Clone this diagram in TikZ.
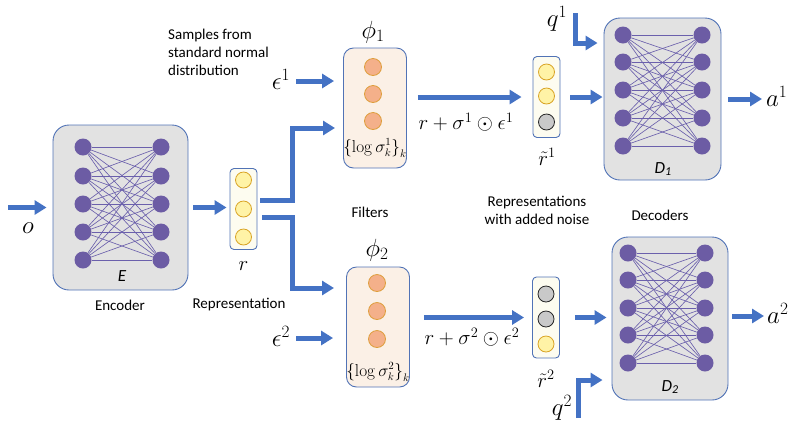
\documentclass[tikz,border=0pt]{standalone}
\usepackage[no-math]{fontspec}
\setmainfont{Carlito}
\usetikzlibrary{arrows.meta}

\definecolor{arrowblue}{HTML}{4472C4}
\definecolor{boxline}{HTML}{5173B6}
\definecolor{netgray}{HTML}{E2E2E2}
\definecolor{neuronfill}{HTML}{6C5CA4}
\definecolor{linkcol}{HTML}{6B60AC}
\definecolor{peach}{HTML}{FBF0E6}
\definecolor{salmon}{HTML}{F4B08A}
\definecolor{salmonline}{HTML}{DE9E3C}
\definecolor{cream}{HTML}{FDFCF0}
\definecolor{lemon}{HTML}{FFF3A6}
\definecolor{lemonline}{HTML}{D9A426}
\definecolor{noisegray}{HTML}{C9C9C9}

\begin{document}
\begin{tikzpicture}[x=1pt,y=-1pt,
  arr/.style={line width=5pt, draw=arrowblue, line join=miter,
    -{Triangle[length=12pt,width=14pt]}},
  netbox/.style={draw=boxline, line width=0.9pt, fill=netgray,
    rounded corners=16pt, inner sep=0pt},
  filterbox/.style={draw=boxline, line width=0.9pt, fill=peach,
    rounded corners=10pt, inner sep=0pt, minimum width=63pt, minimum height=120pt},
  vecbox/.style={draw=boxline, line width=0.9pt, fill=cream,
    rounded corners=4pt, inner sep=0pt, minimum width=27pt, minimum height=81pt},
  neuron/.style={circle, fill=neuronfill, inner sep=0pt, minimum size=17pt},
  link/.style={draw=linkcol, line width=0.65pt},
  unitS/.style={circle, draw=salmonline, line width=0.8pt, fill=salmon,
    inner sep=0pt, minimum size=17pt},
  unitY/.style={circle, draw=lemonline, line width=0.8pt, fill=lemon,
    inner sep=0pt, minimum size=16pt},
  unitG/.style={circle, draw=black!85, line width=0.8pt, fill=noisegray,
    inner sep=0pt, minimum size=16pt},
  caption/.style={font=\fontsize{15}{18}\selectfont, inner sep=0pt, align=center},
  mhuge/.style={font=\fontsize{26}{28}\selectfont, inner sep=0pt},
  mbig/.style={font=\fontsize{24}{26}\selectfont, inner sep=0pt},
  mvec/.style={font=\fontsize{22}{24}\selectfont, inner sep=0pt},
  mmix/.style={font=\fontsize{19.5}{21}\selectfont, inner sep=0pt},
  msig/.style={font=\fontsize{16}{17}\selectfont, inner sep=0pt},
  netname/.style={font=\fontsize{17}{18}\selectfont\itshape, inner sep=0pt},
]
\useasboundingbox (0,0) rectangle (792,424);

% ---------- encoder and decoders ----------
\node[netbox, minimum width=135pt, minimum height=165pt] (enc) at (120.5,207.5) {};
\node[netbox, minimum width=117pt, minimum height=162pt] (dec1) at (662.5,99) {};
\node[netbox, minimum width=116pt, minimum height=163pt] (dec2) at (670,318.5) {};

% fully connected layers
\foreach \net/\xl/\xr/\ya/\yb/\yc/\yd/\ye in
  {e/83/161/147/176/204/232/260,
   a/623/702/35/62/90/118/146,
   b/628/705/253/280/308/335/363}{
  \foreach \i/\y in {1/\ya,2/\yb,3/\yc,4/\yd,5/\ye}{
    \node[neuron] (\net L\i) at (\xl,\y) {};
    \node[neuron] (\net R\i) at (\xr,\y) {};
  }
  \foreach \i in {1,...,5}{
    \foreach \j in {1,...,5}{
      \draw[link] (\net L\i) -- (\net R\j);
    }
  }
}
\node[netname] (encname) at (122,276) {E};
\node[netname] (dec1name) at (663,169) {D\raisebox{-0.3ex}{\fontsize{12}{12}\selectfont 1}};
\node[netname] (dec2name) at (670,387) {D\raisebox{-0.3ex}{\fontsize{12}{12}\selectfont 2}};

% ---------- representation ----------
\node[vecbox] (rb) at (243.5,209) {};
\node[unitY] (r1) at (243.5,180) {};
\node[unitY] (r2) at (243.5,209) {};
\node[unitY] (r3) at (243.5,237) {};
\node[mvec] (rname) at (243.5,266) {$r$};

% ---------- filters ----------
\node[filterbox] (phi1) at (375,108) {};
\node[unitS] (p11) at (373,67) {};
\node[unitS] (p12) at (373,94) {};
\node[unitS] (p13) at (373,121) {};
\node[msig] (sig1) at (375,148) {$\left\{\log\sigma_k^1\right\}_k$};
\node[mhuge] (phi1name) at (373,32) {$\phi_1$};

\node[filterbox] (phi2) at (378,327) {};
\node[unitS] (p21) at (377,283) {};
\node[unitS] (p22) at (377,311) {};
\node[unitS] (p23) at (377,339) {};
\node[msig] (sig2) at (378,372) {$\left\{\log\sigma_k^2\right\}_k$};
\node[mhuge] (phi2name) at (377,250) {$\phi_2$};

% ---------- noisy representations ----------
\node[vecbox] (rt1) at (546.5,97) {};
\node[unitY] (t11) at (546.5,72) {};
\node[unitY] (t12) at (546.5,96) {};
\node[unitG] (t13) at (546.5,122) {};
\node[mvec] (rt1name) at (547,157) {$\tilde r^{1}$};

\node[vecbox] (rt2) at (546,317.5) {};
\node[unitG] (t21) at (546,294) {};
\node[unitG] (t22) at (546,319) {};
\node[unitY] (t23) at (546,344) {};
\node[mvec] (rt2name) at (546,379) {$\tilde r^{2}$};

% ---------- math labels ----------
\node[mbig] (oname) at (28,228) {$o$};
\node[mbig] (eps1) at (281,79) {$\epsilon^1$};
\node[mbig] (eps2) at (281,336) {$\epsilon^2$};
\node[mmix] (mix1) at (466,122) {$r+\sigma^1\odot\epsilon^1$};
\node[mmix] (mix2) at (472,337) {$r+\sigma^2\odot\epsilon^2$};
\node[mbig] (q1) at (557,19) {$q^1$};
\node[mbig] (q2) at (562,408) {$q^2$};
\node[mbig, anchor=west] (a1) at (766,96) {$a^1$};
\node[mbig, anchor=west] (a2) at (767,313) {$a^2$};

% ---------- captions ----------
\node[caption, align=left, anchor=north west] (samples) at (168,29)
  {Samples from\\standard normal\\distribution};
\node[caption] (filters) at (370,212) {Filters};
\node[caption] (noisy) at (537,210) {Representations\\with added noise};
\node[caption] (decoders) at (660,215) {Decoders};
\node[caption] (encoder) at (120,305) {Encoder};
\node[caption] (repr) at (239,305) {Representation};

% ---------- connectors ----------
\coordinate (oin) at (8,207.5);
\draw[arr, shorten >=6pt] (oin) -- (enc.west);
\draw[arr, shorten <=5pt, shorten >=3pt] (enc.east) -- (enc.east -| rb.west);

\coordinate (rUp) at (260,200);
\coordinate (splitUp) at (292,200);
\coordinate (phi1in) at (335,128);
\draw[arr] (rUp) -- (splitUp) |- (phi1in);

\coordinate (rDown) at (262,217);
\coordinate (splitDown) at (292,217);
\coordinate (phi2in) at (334,288);
\draw[arr] (rDown) -- (splitDown) |- (phi2in);

\coordinate (e1start) at (296,81);
\draw[arr, shorten >=9pt] (e1start) -- (e1start -| phi1.west);
\coordinate (e2start) at (296,338);
\draw[arr, shorten >=13pt] (e2start) -- (e2start -| phi2.west);

\draw[arr, shorten <=11pt, shorten >=11pt] (rt1.west -| phi1.east) -- (rt1.west);
\draw[arr, shorten <=14pt, shorten >=8pt] (rt2.west -| phi2.east) -- (rt2.west);

\draw[arr, shorten <=10pt, shorten >=1pt] (rt1.east) -- (rt1.east -| dec1.west);
\draw[arr, shorten <=15pt, shorten >=5pt] (rt2.east) -- (rt2.east -| dec2.west);

\coordinate (q1top) at (575,13);
\coordinate (q1bend) at (575,43);
\draw[arr, shorten >=6pt] (q1top) -- (q1bend) -- (q1bend -| dec1.west);
\coordinate (q2bot) at (578,418);
\coordinate (q2bend) at (578,380);
\draw[arr, shorten >=9pt] (q2bot) -- (q2bend) -- (q2bend -| dec2.west);

\coordinate (a1tip) at (762,99);
\draw[arr, shorten <=7pt] (dec1.east) -- (a1tip);
\coordinate (a2start) at (732,316);
\coordinate (a2tip) at (764,316);
\draw[arr] (a2start) -- (a2tip);
\end{tikzpicture}
\end{document}
